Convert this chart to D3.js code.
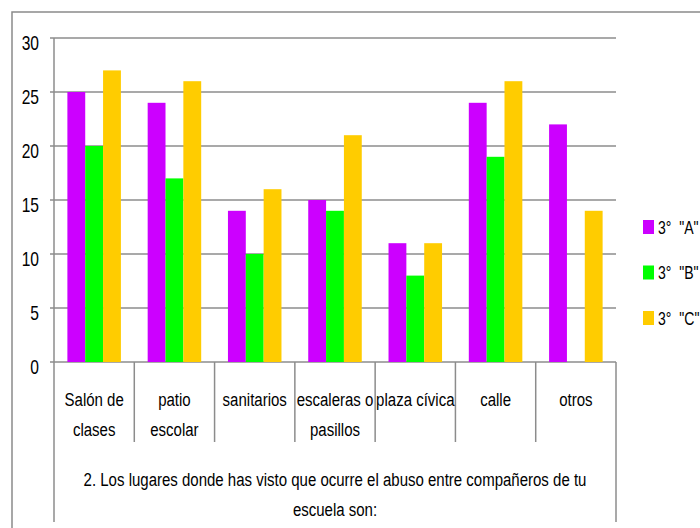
<!DOCTYPE html>
<html>
<head>
<meta charset="utf-8">
<script src="https://cdn.jsdelivr.net/npm/d3@7"></script>
<style>
  body { margin: 0; background: #fff; }
  svg { display: block; }
  text { font-family: "Liberation Sans", Arial, sans-serif; fill: #000; }
</style>
</head>
<body>
<div id="chart"></div>
<script>
var categories = ['Salón de clases', 'patio escolar', 'sanitarios', 'escaleras o pasillos', 'plaza cívica', 'calle', 'otros']
var categoryLines = [['Salón de', 'clases'], ['patio', 'escolar'], ['sanitarios'], ['escaleras o', 'pasillos'], ['plaza cívica'], ['calle'], ['otros']]
var seriesNames = ['3°  "A"', '3°  "B"', '3°  "C"']
var valuesA = [25, 24, 14, 15, 11, 24, 22]
var valuesB = [20, 17, 10, 14, 8, 19, null]
var valuesC = [27, 26, 16, 21, 11, 26, 14]
var seriesColors = ['#cc00ff', '#00ff00', '#ffcc00']
var yTicks = [0, 5, 10, 15, 20, 25, 30]
var titleLines = ['2. Los lugares donde has visto que ocurre el abuso entre compañeros de tu', 'escuela son:']

var width = 700
var height = 528
var plot = { left: 54, right: 616, top: 38, bottom: 362 }
var squeeze = 0.79   // the original font is a narrow one

var svg = d3.select('#chart').append('svg')
    .attr('width', width)
    .attr('height', height)

// outer chart border
svg.append('rect')
    .attr('x', 12).attr('y', 12)
    .attr('width', 760).attr('height', 560)
    .style('fill', 'none')
    .style('stroke', '#8a8a8a')
    .style('stroke-width', 1.5)

var x0 = d3.scaleBand()
    .domain(categories)
    .range([plot.left, plot.right])
    .paddingInner(0)

var x1 = d3.scaleBand()
    .domain(seriesNames)
    .range([0, x0.bandwidth()])
    .paddingInner(0)
    .paddingOuter(0.75)

var y = d3.scaleLinear()
    .domain([0, 30])
    .range([plot.bottom, plot.top])

var color = d3.scaleOrdinal().domain(seriesNames).range(seriesColors)

// gridlines
svg.append('g').selectAll('line')
    .data(yTicks)
    .enter().append('line')
    .attr('x1', plot.left - 4)
    .attr('x2', plot.right)
    .attr('y1', d => y(d))
    .attr('y2', d => y(d))
    .style('stroke', '#8c8c8c')
    .style('stroke-width', 1.5)

// y labels
svg.append('g').selectAll('text')
    .data(yTicks)
    .enter().append('text')
    .attr('transform', d => `translate(39,${y(d) + 5}) scale(0.78,1)`)
    .attr('dy', '0.35em')
    .attr('text-anchor', 'end')
    .style('font-size', '20px')
    .text(d => d)

// bars
var rows = categories.map((c, i) => ({ cat: c, vals: [valuesA[i], valuesB[i], valuesC[i]] }))

var groups = svg.append('g').selectAll('g')
    .data(rows)
    .enter().append('g')
    .attr('transform', d => `translate(${x0(d.cat)},0)`)

groups.selectAll('rect')
    .data(d => seriesNames.map((s, j) => ({ s: s, v: d.vals[j] })).filter(e => e.v != null))
    .enter().append('rect')
    .attr('x', d => x1(d.s))
    .attr('y', d => y(d.v))
    .attr('width', x1.bandwidth())
    .attr('height', d => y(0) - y(d.v))
    .style('fill', d => color(d.s))

// category dividers
var bounds = categories.map(c => x0(c)).concat([plot.right])
svg.append('g').selectAll('line')
    .data(bounds)
    .enter().append('line')
    .attr('x1', d => d)
    .attr('x2', d => d)
    .attr('y1', (d, i) => (i == 0 ? plot.top : plot.bottom))
    .attr('y2', (d, i) => (i == 0 || i == bounds.length - 1) ? 522 : 442)
    .style('stroke', '#8c8c8c')
    .style('stroke-width', 1.5)

// category labels
var labels = svg.append('g').selectAll('text')
    .data(categories)
    .enter().append('text')
    .attr('text-anchor', 'middle')
    .style('font-size', '19px')
    .attr('transform', d => `translate(${x0(d) + x0.bandwidth() / 2},0) scale(${squeeze},1)`)

labels.selectAll('tspan')
    .data((d, i) => categoryLines[i])
    .enter().append('tspan')
    .attr('x', 0)
    .attr('y', (d, i) => 406 + i * 30)
    .text(d => d)

// axis title
svg.append('g').selectAll('text')
    .data(titleLines)
    .enter().append('text')
    .attr('transform', (d, i) => `translate(${(plot.left + plot.right) / 2},${486 + i * 30}) scale(${squeeze},1)`)
    .attr('text-anchor', 'middle')
    .style('font-size', '19px')
    .text(d => d)

// legend
var legend = svg.append('g').selectAll('g')
    .data(seriesNames)
    .enter().append('g')
    .attr('transform', (d, i) => `translate(643,${227 + i * 45.5})`)

legend.append('rect')
    .attr('x', 0).attr('y', -7)
    .attr('width', 11).attr('height', 14)
    .style('fill', d => color(d))

legend.append('text')
    .attr('transform', 'translate(15,0) scale(0.74,1)')
    .attr('dy', '0.35em')
    .style('font-size', '19px')
    .style('white-space', 'pre')
    .text(d => d)
</script>
</body>
</html>
